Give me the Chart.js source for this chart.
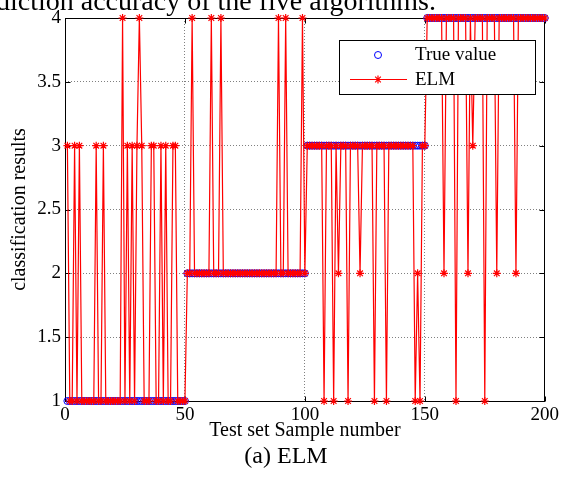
<!DOCTYPE html>
<html>
<head>
<meta charset="utf-8">
<title>ELM classification results</title>
<script src="https://cdn.jsdelivr.net/npm/chart.js@4.4.0/dist/chart.umd.min.js"></script>
<style>
  html, body { margin: 0; padding: 0; background: #fff; }
  canvas { display: block; }
</style>
</head>
<body>
<canvas id="elmChart" width="562" height="477"></canvas>
<script>
/* =============================================
   ELM – test set classification results
   ============================================= */

const SERIF = "'Liberation Serif', 'Times New Roman', serif";

// ----- Data -----
// sample index 1..200 along the x axis
const sampleNo = Array.from({ length: 200 }, (_, i) => i + 1);

const trueValue = [
  1,1,1,1,1,1,1,1,1,1,1,1,1,1,1,1,1,1,1,1,1,1,1,1,1,
  1,1,1,1,1,1,1,1,1,1,1,1,1,1,1,1,1,1,1,1,1,1,1,1,1,
  2,2,2,2,2,2,2,2,2,2,2,2,2,2,2,2,2,2,2,2,2,2,2,2,2,
  2,2,2,2,2,2,2,2,2,2,2,2,2,2,2,2,2,2,2,2,2,2,2,2,2,
  3,3,3,3,3,3,3,3,3,3,3,3,3,3,3,3,3,3,3,3,3,3,3,3,3,
  3,3,3,3,3,3,3,3,3,3,3,3,3,3,3,3,3,3,3,3,3,3,3,3,3,
  4,4,4,4,4,4,4,4,4,4,4,4,4,4,4,4,4,4,4,4,4,4,4,4,4,
  4,4,4,4,4,4,4,4,4,4,4,4,4,4,4,4,4,4,4,4,4,4,4,4,4,
];

const elmPred = [
  3,1,1,3,1,3,1,1,1,1,1,1,3,1,1,3,1,1,1,1,1,1,1,4,1,
  3,1,3,1,3,4,3,1,1,1,3,3,1,1,3,1,3,1,1,3,3,1,1,1,1,
  2,2,4,2,2,2,2,2,2,2,4,2,2,2,4,2,2,2,2,2,2,2,2,2,2,
  2,2,2,2,2,2,2,2,2,2,2,2,2,4,2,2,4,2,2,2,2,2,2,4,2,
  3,3,3,3,3,3,3,1,3,3,3,1,3,2,3,3,3,1,3,3,3,3,2,3,3,
  3,3,3,1,3,3,3,3,1,3,3,3,3,3,3,3,3,3,3,3,1,2,1,3,3,
  4,4,4,4,4,4,4,2,4,4,4,4,1,4,4,4,4,2,4,3,4,4,4,4,1,
  4,4,4,4,2,4,4,4,4,4,4,4,2,4,4,4,4,4,4,4,4,4,4,4,4,
];

const xTicks = [0, 50, 100, 150, 200];
const yTicks = [1, 1.5, 2, 2.5, 3, 3.5, 4];

const seriesNames = ['True value', 'ELM'];

// ----- Plugins -----
// box around the axes with inward tick marks on all four sides
const axesBox = {
  id: 'axesBox',
  beforeDatasetsDraw(chart) {
    const { ctx, chartArea: a, scales: { x, y } } = chart;
    const L = Math.round(a.left) + 0.5, R = Math.round(a.right) - 0.5;
    const T = Math.round(a.top) + 0.5,  B = Math.round(a.bottom) + 0.5;
    ctx.save();
    ctx.strokeStyle = '#000';
    ctx.lineWidth = 1;
    ctx.strokeRect(L, T, R - L, B - T);
    ctx.beginPath();
    xTicks.forEach(v => {
      const px = Math.round(x.getPixelForValue(v)) + 0.5;
      ctx.moveTo(px, B); ctx.lineTo(px, B - 5);
      ctx.moveTo(px, T); ctx.lineTo(px, T + 5);
    });
    yTicks.forEach(v => {
      const py = Math.round(y.getPixelForValue(v)) + 0.5;
      ctx.moveTo(L, py); ctx.lineTo(L + 5, py);
      ctx.moveTo(R, py); ctx.lineTo(R - 5, py);
    });
    ctx.stroke();
    ctx.restore();
  },
};

// boxed legend in the upper right, plus caption texts
const legendBox = {
  id: 'legendBox',
  afterDraw(chart) {
    const { ctx } = chart;
    ctx.save();
    ctx.fillStyle = '#fff';
    ctx.fillRect(339.5, 40.5, 196, 54);
    ctx.strokeStyle = '#000';
    ctx.lineWidth = 1;
    ctx.strokeRect(339.5, 40.5, 196, 54);

    // True value: blue open circle
    ctx.strokeStyle = '#0000ff';
    Chart.helpers.drawPoint(ctx, { pointStyle: 'circle', radius: 3.5, borderWidth: 1 }, 378, 55);

    // ELM: red line with star
    ctx.strokeStyle = '#ff0000';
    ctx.lineWidth = 1.2;
    ctx.beginPath();
    ctx.moveTo(350, 79.5); ctx.lineTo(407, 79.5);
    ctx.stroke();
    Chart.helpers.drawPoint(ctx, { pointStyle: 'star', radius: 4, borderWidth: 1.2 }, 378, 79.5);

    ctx.fillStyle = '#000';
    ctx.font = `19px ${SERIF}`;
    ctx.textBaseline = 'middle';
    ctx.textAlign = 'left';
    ctx.fillText(seriesNames[0], 415, 55);
    ctx.fillText(seriesNames[1], 415, 80);

    // caption under the axes
    ctx.textAlign = 'center';
    ctx.font = `24px ${SERIF}`;
    ctx.fillText('(a) ELM', 286, 457);

    // running text above the figure, cut by the top edge
    ctx.textAlign = 'right';
    ctx.textBaseline = 'alphabetic';
    ctx.font = `28px ${SERIF}`;
    ctx.fillText('the prediction accuracy of the five algorithms.', 436, 10);
    ctx.restore();
  },
};

// ----- Chart -----
new Chart(document.getElementById('elmChart'), {
  type: 'line',
  data: {
    labels: sampleNo,
    datasets: [
      {
        label: seriesNames[0],
        data: trueValue,
        showLine: false,
        pointStyle: 'circle',
        pointRadius: 3.5,
        pointBorderWidth: 1,
        borderColor: '#0000ff',
        pointBorderColor: '#0000ff',
        pointBackgroundColor: 'rgba(0,0,0,0)',
        clip: false,
        order: 2,
      },
      {
        label: seriesNames[1],
        data: elmPred,
        borderColor: '#ff0000',
        borderWidth: 1.2,
        tension: 0,
        pointStyle: 'star',
        pointRadius: 4,
        pointBorderWidth: 1.2,
        pointBorderColor: '#ff0000',
        pointBackgroundColor: '#ff0000',
        clip: false,
        order: 1,
      },
    ],
  },
  options: {
    responsive: false,
    animation: false,
    events: [],
    layout: { padding: { top: 18, right: 17, left: 0, bottom: 0 } },
    plugins: { legend: { display: false }, tooltip: { enabled: false } },
    scales: {
      x: {
        type: 'linear',
        min: 0, max: 200,
        afterBuildTicks: s => { s.ticks = xTicks.map(v => ({ value: v })); },
        afterFit: s => { s.height = 76; },
        ticks: { color: '#000', font: { family: SERIF, size: 19 }, padding: 3, maxRotation: 0, callback: v => String(v) },
        grid: { color: '#808080', lineWidth: 1, drawTicks: false },
        border: { display: false, dash: [1, 2] },
        title: {
          display: true,
          text: 'Test set Sample number',
          color: '#000',
          font: { family: SERIF, size: 20 },
          padding: { top: 0, bottom: 34 },
        },
      },
      y: {
        type: 'linear',
        min: 1, max: 4,
        afterBuildTicks: s => { s.ticks = yTicks.map(v => ({ value: v })); },
        afterFit: s => { s.width = 65; },
        ticks: { color: '#000', font: { family: SERIF, size: 19 }, padding: 4, callback: v => String(v) },
        grid: { color: '#808080', lineWidth: 1, drawTicks: false },
        border: { display: false, dash: [1, 2] },
        title: {
          display: true,
          text: 'classification results',
          color: '#000',
          font: { family: SERIF, size: 20 },
          padding: { top: 8, bottom: 0 },
        },
      },
    },
  },
  plugins: [axesBox, legendBox],
});
</script>
</body>
</html>
